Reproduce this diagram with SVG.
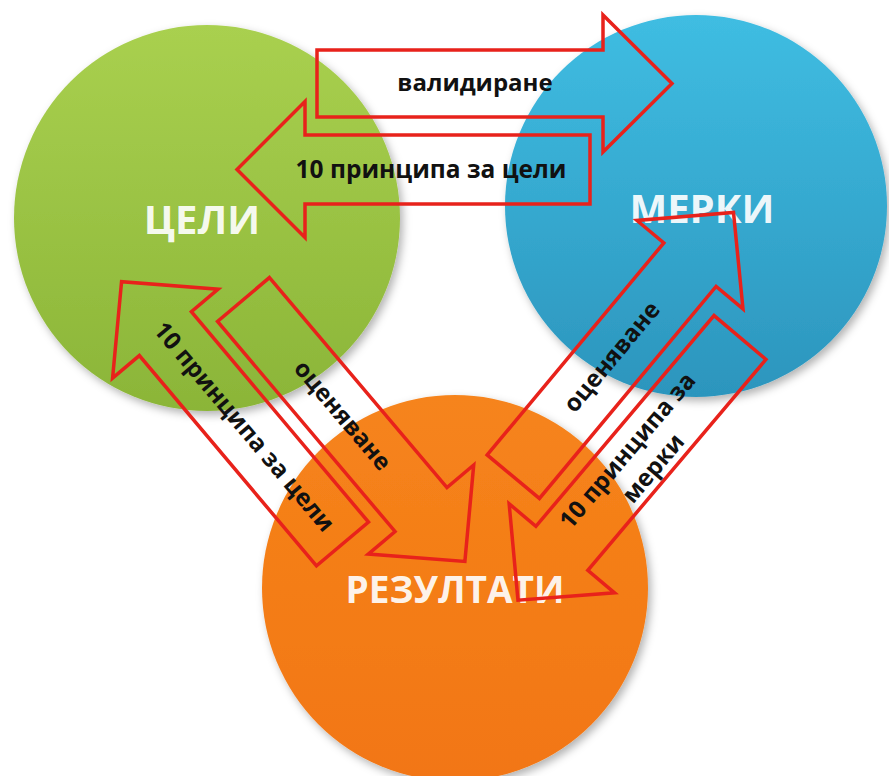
<svg xmlns="http://www.w3.org/2000/svg" width="889" height="776" viewBox="0 0 889 776">
  <style>
    .node-label { font-family: "Open Sans", "Noto Sans", "DejaVu Sans", sans-serif; font-weight: bold; font-size: 40px; fill: #ffffff; fill-opacity: 0.93; text-anchor: middle; }
    .arrow { fill: none; stroke: #E8221B; stroke-width: 3.5; stroke-linejoin: miter; }
    .arrow-label { font-family: "Open Sans", "Noto Sans", "DejaVu Sans", sans-serif; font-weight: bold; font-size: 24px; fill: #111111; text-anchor: middle; }
  </style>
  <defs>
    <linearGradient id="gGreen" x1="0" y1="0" x2="0" y2="1">
      <stop offset="0" stop-color="#A9D04F"/>
      <stop offset="1" stop-color="#8BB538"/>
    </linearGradient>
    <linearGradient id="gBlue" x1="0" y1="0" x2="0" y2="1">
      <stop offset="0" stop-color="#3FBDE2"/>
      <stop offset="1" stop-color="#2C95BD"/>
    </linearGradient>
    <linearGradient id="gOrange" x1="0" y1="0" x2="0" y2="1">
      <stop offset="0" stop-color="#F6841C"/>
      <stop offset="1" stop-color="#F27612"/>
    </linearGradient>
    <filter id="shadow" x="-15%" y="-15%" width="135%" height="135%">
      <feDropShadow dx="3" dy="4" stdDeviation="4" flood-color="#000000" flood-opacity="0.3"/>
    </filter>
  </defs>

  <rect width="889" height="776" fill="#ffffff"/>

  <g id="node-celi">
    <circle cx="207" cy="218" r="193" fill="url(#gGreen)" filter="url(#shadow)"/>
    <text class="node-label" x="202" y="234" font-size="41">ЦЕЛИ</text>
  </g>

  <g id="node-merki">
    <circle cx="696" cy="206" r="191" fill="url(#gBlue)" filter="url(#shadow)"/>
    <text class="node-label" x="702" y="223">МЕРКИ</text>
  </g>

  <g id="node-rezultati">
    <circle cx="455" cy="588" r="193" fill="url(#gOrange)" filter="url(#shadow)"/>
    <text class="node-label" x="455" y="603" style="font-size:37px">РЕЗУЛТАТИ</text>
  </g>

  <g id="connectors">
    <g id="arrow-validirane">
      <path class="arrow" transform="translate(317,83.5)" d="M0,-33.5 H286 V-68.5 L355,0 L286,68.5 V33.5 H0 Z"/>
      <text class="arrow-label" x="475" y="91">валидиране</text>
    </g>
    <g id="arrow-principi-celi-top">
      <path class="arrow" transform="translate(590,169.5) rotate(180)" d="M0,-34.5 H285 V-68 L353,0 L285,68 V34.5 H0 Z"/>
      <text class="arrow-label" x="431" y="178" style="font-size:24.5px">10 принципа за цели</text>
    </g>
    <g id="arrow-principi-celi-diag">
      <path class="arrow" transform="translate(342.5,544) rotate(229.9)" d="M0,-34 H275 V-69 L343,0 L275,69 V34 H0 Z"/>
      <text class="arrow-label" transform="translate(244,427) rotate(49.9)" x="0" y="0" dy="0.33em">10 принципа за цели</text>
    </g>
    <g id="arrow-ocenyavane-left">
      <path class="arrow" transform="translate(243.5,299.5) rotate(49.8)" d="M0,-34 H275 V-69 L343,0 L275,69 V34 H0 Z"/>
      <text class="arrow-label" transform="translate(342,416) rotate(49.8)" x="0" y="0" dy="0.3em">оценяване</text>
    </g>
    <g id="arrow-ocenyavane-right">
      <path class="arrow" transform="translate(513.3,476.7) rotate(-50.2)" d="M0,-34 H276 V-69 L344,0 L276,69 V34 H0 Z"/>
      <text class="arrow-label" transform="translate(612.5,357.5) rotate(-50.2)" x="0" y="0" dy="0.3em">оценяване</text>
    </g>
    <g id="arrow-principi-merki">
      <path class="arrow" transform="translate(740,337.5) rotate(130.2)" d="M0,-34 H276 V-69 L344,0 L276,69 V34 H0 Z"/>
      <text class="arrow-label" transform="translate(641,458) rotate(-49.8)">
        <tspan x="0" y="-7">10 принципа за</tspan>
        <tspan x="0" y="24">мерки</tspan>
      </text>
    </g>
  </g>
</svg>
